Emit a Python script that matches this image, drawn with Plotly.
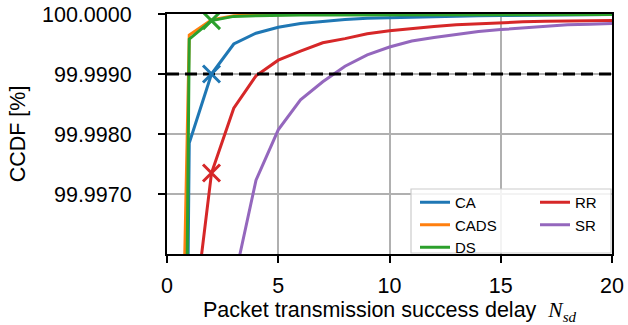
import plotly.graph_objects as go

# ---------------- data ----------------
N_SD = list(range(0, 21))

CA = [99.96, 99.99785, 99.99900, 99.99950, 99.99968, 99.99978, 99.99984, 99.99988,
      99.99991, 99.99993, 99.99994, 99.99995, 99.99996, 99.999965, 99.99997,
      99.999975, 99.99998, 99.999982, 99.999985, 99.999987, 99.99999]
CADS = [99.9815, 99.99965, 99.99990, 99.99997, 99.99999, 99.999992, 99.999993, 99.999994,
        99.999995, 99.999995, 99.999996, 99.999996, 99.999997, 99.999997, 99.999997,
        99.999998, 99.999998, 99.999998, 99.999998, 99.999999, 99.999999]
DS = [99.96, 99.99958, 99.99989, 99.99996, 99.99997, 99.99998, 99.999982, 99.999984,
      99.999985, 99.999986, 99.999987, 99.999988, 99.999988, 99.999989, 99.999989,
      99.99999, 99.99999, 99.99999, 99.99999, 99.99999, 99.99999]
RR = [99.98, 99.9943, 99.99735, 99.99843, 99.99897, 99.99923, 99.99938, 99.99952,
      99.99959, 99.99967, 99.99972, 99.99976, 99.99979, 99.99982, 99.99984,
      99.99986, 99.99987, 99.99988, 99.99988, 99.99989, 99.99989]
SR = [99.97, 99.985, 99.992, 99.99552, 99.99723, 99.99807, 99.99857, 99.99887,
      99.99913, 99.99932, 99.99945, 99.99955, 99.99961, 99.99966, 99.99971,
      99.99974, 99.99977, 99.9998, 99.99982, 99.99983, 99.99984]

THRESHOLD = 99.999
MARK_AT = 2  # N_sd where the x markers sit

X_TICKS = [0, 5, 10, 15, 20]
Y_TICKS = [99.997, 99.998, 99.999, 100.0]
Y_TICK_TEXT = ["99.9970", "99.9980", "99.9990", "100.0000"]

SERIES = [
    ("CA", CA, "#1f77b4", True, "legend"),
    ("CADS", CADS, "#ff7f0e", False, "legend"),
    ("DS", DS, "#2ca02c", True, "legend"),
    ("RR", RR, "#d62728", True, "legend2"),
    ("SR", SR, "#9467bd", False, "legend2"),
]

FONT = "Liberation Sans, Arial, Helvetica, sans-serif"
FS = 21.5

fig = go.Figure()

for name, ys, color, _, leg in SERIES:
    fig.add_trace(go.Scatter(
        x=N_SD, y=ys, mode="lines", name=name,
        line=dict(color=color, width=3),
        legend=leg,
    ))

# threshold dashed line
fig.add_trace(go.Scatter(
    x=[X_TICKS[0], X_TICKS[-1]], y=[THRESHOLD, THRESHOLD], mode="lines",
    line=dict(color="black", width=3, dash="12px,6px"),
    showlegend=False, hoverinfo="skip",
))

# x markers
idx = N_SD.index(MARK_AT)
for name, ys, color, mark, leg in SERIES:
    if mark:
        fig.add_trace(go.Scatter(
            x=[MARK_AT], y=[ys[idx]], mode="markers",
            marker=dict(symbol="x-thin", size=17, color=color,
                        line=dict(color=color, width=3)),
            showlegend=False, hoverinfo="skip",
        ))

L, R, T, B = 167, 16, 14, 71
W, H = 628, 325
pw, ph = W - L - R, H - T - B

def px2paper_x(px):
    return (px - L) / pw

def px2paper_y(py):
    return (H - B - py) / ph

box_l, box_r, box_t, box_b = 411, 611, 189, 253

fig.add_shape(type="rect", xref="paper", yref="paper",
              x0=px2paper_x(box_l), x1=px2paper_x(box_r),
              y0=px2paper_y(box_b), y1=px2paper_y(box_t),
              line=dict(color="#cccccc", width=1.2),
              fillcolor="rgba(255,255,255,0.85)", layer="above")

legend_common = dict(
    bgcolor="rgba(0,0,0,0)", borderwidth=0,
    font=dict(family=FONT, size=15, color="black"),
    xanchor="left", yanchor="top", orientation="v",
    itemclick=False, itemdoubleclick=False,
)

fig.update_layout(
    width=W, height=H,
    margin=dict(l=L, r=R, t=T, b=B, autoexpand=False),
    paper_bgcolor="white", plot_bgcolor="white",
    font=dict(family=FONT, size=FS, color="black"),
    legend=dict(x=px2paper_x(box_l + 4), y=px2paper_y(186), **legend_common),
    legend2=dict(x=px2paper_x(box_l + 124), y=px2paper_y(186), **legend_common),
    xaxis=dict(
        range=[0, 20], tickvals=X_TICKS, ticktext=[str(v) for v in X_TICKS],
        showgrid=True, gridcolor="#b0b0b0", gridwidth=1.5, automargin=False,
        zeroline=False, showline=True, linecolor="black", linewidth=2, mirror=True,
        ticks="outside", ticklen=7, tickwidth=1.5, tickcolor="black",
        tickfont=dict(family=FONT, size=FS), ticklabelstandoff=4,
        title=dict(
            text="Packet transmission success delay&nbsp;&nbsp;"
                 "<span style=\"font-family:'Liberation Serif', serif\"><i>N</i><sub><i>sd</i></sub></span>",
            font=dict(family=FONT, size=FS), standoff=9),
    ),
    yaxis=dict(
        range=[99.996, 100.0], tickvals=Y_TICKS, ticktext=Y_TICK_TEXT,
        showgrid=True, gridcolor="#b0b0b0", gridwidth=1.5, automargin=False,
        zeroline=False, showline=True, linecolor="black", linewidth=2, mirror=True,
        ticks="outside", ticklen=7, tickwidth=1.5, tickcolor="black",
        tickfont=dict(family=FONT, size=FS), ticklabelstandoff=22,
        title=dict(text="CCDF [%]", font=dict(family=FONT, size=FS), standoff=10),
    ),
)

fig.write_html("out.html",
               config={"displayModeBar": False},
               post_script="document.body.style.margin='0';document.body.style.padding='0';")
